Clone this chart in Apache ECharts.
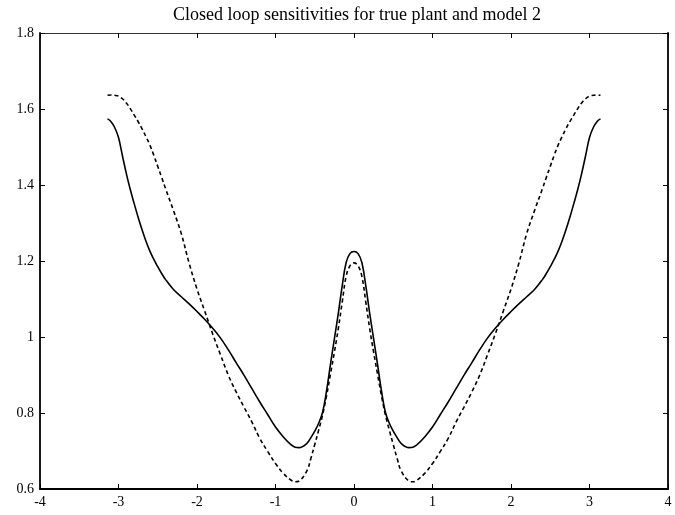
<!DOCTYPE html>
<html>
<head>
<meta charset="utf-8">
<script src="https://cdn.jsdelivr.net/npm/echarts@6/dist/echarts.min.js"></script>
<style>
html,body{margin:0;padding:0;background:#fff;}
#chart{width:675px;height:515px;}
</style>
</head>
<body>
<div id="chart"></div>
<script>
var titleText = 'Closed loop sensitivities for true plant and model 2';
var xValues = [-3.14,-3.1,-3.05,-3.0,-2.95,-2.9,-2.85,-2.8,-2.75,-2.7,-2.65,-2.6,-2.55,-2.5,-2.45,-2.4,-2.3,-2.2,-2.1,-2.0,-1.9,-1.8,-1.7,-1.6,-1.5,-1.4,-1.3,-1.2,-1.1,-1.0,-0.9,-0.8,-0.75,-0.7,-0.6,-0.55,-0.5,-0.45,-0.4,-0.35,-0.3,-0.25,-0.2,-0.15,-0.1,-0.05,0,
  0.05,0.1,0.15,0.2,0.25,0.3,0.35,0.4,0.45,0.5,0.55,0.6,0.7,0.75,0.8,0.9,1.0,1.1,1.2,1.3,1.4,1.5,1.6,1.7,1.8,1.9,2.0,2.1,2.2,2.3,2.4,2.45,2.5,2.55,2.6,2.65,2.7,2.75,2.8,2.85,2.9,2.95,3.0,3.05,3.1,3.14];
var truePlant = [1.574,1.568,1.552,1.525,1.477,1.430,1.388,1.351,1.315,1.282,1.252,1.226,1.204,1.185,1.167,1.151,1.125,1.106,1.087,1.067,1.046,1.023,0.997,0.966,0.932,0.899,0.864,0.829,0.796,0.763,0.737,0.716,0.710,0.709,0.720,0.735,0.752,0.773,0.802,0.858,0.928,0.995,1.062,1.135,1.196,1.220,1.225,
  1.220,1.196,1.135,1.062,0.995,0.928,0.858,0.802,0.773,0.752,0.735,0.720,0.709,0.710,0.716,0.737,0.763,0.796,0.829,0.864,0.899,0.932,0.966,0.997,1.023,1.046,1.067,1.087,1.106,1.125,1.151,1.167,1.185,1.204,1.226,1.252,1.282,1.315,1.351,1.388,1.430,1.477,1.525,1.552,1.568,1.574];
var model2 = [1.636,1.637,1.636,1.634,1.627,1.616,1.601,1.584,1.567,1.548,1.527,1.505,1.478,1.449,1.420,1.390,1.333,1.272,1.194,1.126,1.067,1.008,0.953,0.899,0.855,0.815,0.776,0.733,0.699,0.667,0.641,0.623,0.619,0.621,0.648,0.680,0.717,0.755,0.795,0.845,0.902,0.960,1.022,1.092,1.160,1.188,1.195,
  1.188,1.160,1.092,1.022,0.960,0.902,0.845,0.795,0.755,0.717,0.680,0.648,0.621,0.619,0.623,0.641,0.667,0.699,0.733,0.776,0.815,0.855,0.899,0.953,1.008,1.067,1.126,1.194,1.272,1.333,1.390,1.420,1.449,1.478,1.505,1.527,1.548,1.567,1.584,1.601,1.616,1.627,1.634,1.636,1.637,1.636];
var xTicks = [-4,-3,-2,-1,0,1,2,3,4];
var yTicks = [0.6,0.8,1,1.2,1.4,1.6,1.8];

function pairs(xs, ys){ return xs.map(function(x,i){ return [x, ys[i]]; }); }

var font = 'Liberation Serif';
var chart = echarts.init(document.getElementById('chart'), null, {renderer:'canvas'});
var tick = {show:true, inside:true, length:5, lineStyle:{color:'#000', width:1}};
chart.setOption({
  backgroundColor:'#fff',
  animation:false,
  title:{text:titleText, left:352, top:1, textAlign:'center',
    textStyle:{fontFamily:font, fontSize:18, fontWeight:'normal', color:'#000'}},
  grid:{left:40, right:7, top:33, bottom:26, show:false},
  xAxis:[
    {type:'value', min:xTicks[0], max:xTicks[xTicks.length-1], interval:1, position:'bottom',
     axisLine:{show:true, onZero:false, lineStyle:{color:'#000', width:1.8}}, axisTick:tick, splitLine:{show:false},
     axisLabel:{fontFamily:font, fontSize:14, color:'#000', margin:6,
       formatter:function(v){return String(v);}}},
    {type:'value', min:xTicks[0], max:xTicks[xTicks.length-1], interval:1, position:'top',
     axisLine:{show:true, onZero:false, lineStyle:{color:'#333', width:1}}, axisTick:tick, splitLine:{show:false}, axisLabel:{show:false}}
  ],
  yAxis:[
    {type:'value', min:yTicks[0], max:yTicks[yTicks.length-1], interval:0.2, position:'left',
     axisLine:{show:true, onZero:false, lineStyle:{color:'#000', width:1.8}}, axisTick:tick, splitLine:{show:false},
     axisLabel:{fontFamily:font, fontSize:14, color:'#000', margin:6,
       formatter:function(v){return String(Math.round(v*10)/10);}}},
    {type:'value', min:yTicks[0], max:yTicks[yTicks.length-1], interval:0.2, position:'right',
     axisLine:{show:true, onZero:false, lineStyle:{color:'#000', width:1.8}}, axisTick:tick, splitLine:{show:false}, axisLabel:{show:false}}
  ],
  series:[
    {name:'true plant', type:'line', xAxisIndex:0, yAxisIndex:0, data:pairs(xValues, truePlant),
     showSymbol:false, smooth:0.4, lineStyle:{color:'#000', width:1.6, type:'solid'}},
    {name:'model 2', type:'line', xAxisIndex:0, yAxisIndex:0, data:pairs(xValues, model2),
     showSymbol:false, smooth:0.4, lineStyle:{color:'#000', width:1.6, type:[4,3]}}
  ]
});
</script>
</body>
</html>
